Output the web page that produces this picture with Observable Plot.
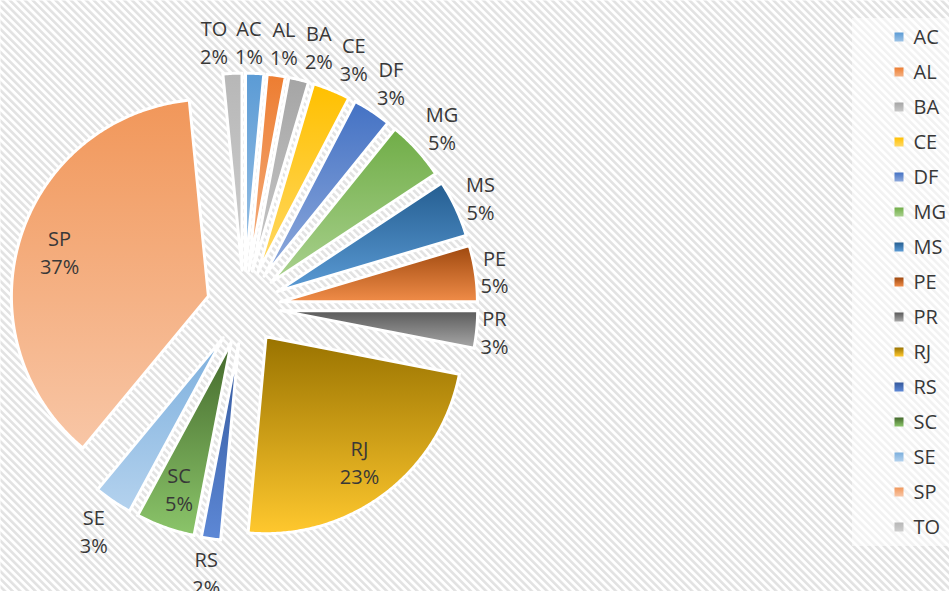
<!DOCTYPE html>
<html>
<head>
<meta charset="utf-8">
<script src="https://cdn.jsdelivr.net/npm/d3@7"></script>
<script src="https://cdn.jsdelivr.net/npm/@observablehq/plot@0.6"></script>
<style>
  html, body { margin: 0; padding: 0; background: #ffffff; overflow: hidden; }
  #chart svg { display: block; }
</style>
</head>
<body>
<div id="chart"></div>
<script>
// ---- data ----
const categories = ["AC", "AL", "BA", "CE", "DF", "MG", "MS", "PE", "PR", "RJ", "RS", "SC", "SE", "SP", "TO"];
const shares     = [1.48, 1.48, 1.63, 3.06, 3.16, 4.90, 4.69, 4.59, 3.06, 23.40, 1.58, 4.85, 3.12, 37.45, 1.55];
// gradient colours per slice: top (shade) and bottom (tint)
const shadeColors = ["#5B9BD5", "#ED7D31", "#A5A5A5", "#FFC000", "#4472C4", "#70AD47", "#255E91", "#9E480E", "#5A5A5A", "#997300", "#34589C", "#43682B", "#7CAFDD", "#F1975A", "#B7B7B7"];
const tintColors  = ["#9DC3E6", "#F4B183", "#C9C9C9", "#FFD966", "#8FAADC", "#A9D18E", "#5B9BD5", "#F08C48", "#A8A8A8", "#FFC82E", "#5D88D6", "#8BC56A", "#B4D2EE", "#F8C6A6", "#CFCFCF"];

// ---- layout ----
const W = 949, H = 591;
const center = {x: 243.3, y: 306.6};
const radius = 197, explode = 37;
const labelGap = 1, labelPad = 7, boxH = 48, placeH = 62, fitH = 44;
const fontSize = 20, lineHeight = 1.4, fontFamily = "Open Sans", textColor = "#383838";
const legend = {x0: 852, x1: W, markerX: 899, marker: 9, textX: 913, top: 37, step: 35};

const ctx = document.createElement("canvas").getContext("2d");
ctx.font = `${fontSize}px "${fontFamily}"`;
const tw = s => ctx.measureText(s).width;

const total = d3.sum(shares);
let acc = 0;
const slices = categories.map((name, i) => {
  const a0 = acc / total * 2 * Math.PI;
  acc += shares[i];
  const a1 = acc / total * 2 * Math.PI;
  const am = (a0 + a1) / 2;
  const ux = Math.sin(am), uy = -Math.cos(am);
  const ax = center.x + explode * ux, ay = center.y + explode * uy;
  const n = Math.max(2, Math.ceil((a1 - a0) / (0.5 * Math.PI / 180)));
  const pts = [{x: ax, y: ay}];
  for (let k = 0; k <= n; k++) {
    const a = a0 + (a1 - a0) * k / n;
    pts.push({x: ax + radius * Math.sin(a), y: ay - radius * Math.cos(a)});
  }
  pts.push({x: ax, y: ay});
  const pct = Math.round(shares[i] / total * 100) + "%";
  const w = Math.max(tw(name), tw(pct));
  return {name, i, a0, a1, am, ux, uy, ax, ay, pts, pct, w};
});

// ---- label placement: best fit (inside if it fits, else outside) ----
slices.forEach(s => {
  const rIn = 0.79 * radius;
  const half = (s.a1 - s.a0) / 2;
  const across = (s.w + 2) * Math.abs(Math.cos(s.am)) + fitH * Math.abs(Math.sin(s.am));
  const along = (s.w + 2) * Math.abs(s.ux) + fitH * Math.abs(s.uy);
  const fits = across < 2 * rIn * Math.sin(half) && rIn + along / 2 < radius;
  if (fits) {
    s.inside = true;
    s.lx = s.ax + rIn * s.ux; s.ly = s.ay + rIn * s.uy;
  } else {
    const sup = (s.w / 2) * Math.abs(s.ux) + (placeH / 2) * Math.abs(s.uy);
    const r = radius + labelGap + sup;
    s.lx = s.ax + r * s.ux; s.ly = s.ay + r * s.uy;
  }
});
const outs = slices.filter(s => !s.inside);
for (let it = 0; it < 400; it++) {
  let moved = false;
  for (let a = 0; a < outs.length; a++) for (let b = a + 1; b < outs.length; b++) {
    const p = outs[a], q = outs[b];
    const minX = (p.w + q.w) / 2 + labelPad;
    const dx = q.lx - p.lx, dy = q.ly - p.ly;
    if (Math.abs(dx) < minX - 0.01 && Math.abs(dy) < boxH) {
      const push = (minX - Math.abs(dx)) / 2, sgn = dx >= 0 ? 1 : -1;
      p.lx -= sgn * push; q.lx += sgn * push; moved = true;
    }
  }
  if (!moved) break;
}

const legendBox = [{x1: legend.x0, x2: legend.x1, y1: legend.top - legend.step / 2 - 1.5, y2: legend.top + (categories.length - 1) * legend.step + legend.step / 2 + 1.5}];

const svg = Plot.plot({
  width: W, height: H,
  margin: 0,
  x: {domain: [0, W], range: [0, W], axis: null},
  y: {domain: [0, H], range: [0, H], axis: null},
  style: {fontFamily: fontFamily, background: "#ffffff", overflow: "visible"},
  marks: [
    Plot.frame({fill: "url(#hatch)", stroke: "none"}),
    Plot.rect(legendBox, {x1: "x1", x2: "x2", y1: "y1", y2: "y2", fill: "#ffffff", fillOpacity: 0.55}),
    ...slices.map(s => Plot.line(s.pts, {
      x: "x", y: "y", curve: "linear",
      fill: `url(#grad-${s.name})`, stroke: "#ffffff", strokeWidth: 3,
      strokeLinejoin: "miter", strokeMiterlimit: 4
    })),
    Plot.text(slices, {
      x: "lx", y: "ly", text: d => `${d.name}\n${d.pct}`,
      lineHeight: lineHeight, lineAnchor: "middle", textAnchor: "middle",
      fontSize: fontSize, fontFamily: fontFamily, fill: textColor
    }),
    ...slices.map(s => Plot.rect([s], {
      x1: () => legend.markerX - legend.marker / 2, x2: () => legend.markerX + legend.marker / 2,
      y1: d => legend.top + d.i * legend.step - legend.marker / 2,
      y2: d => legend.top + d.i * legend.step + legend.marker / 2,
      fill: `url(#grad-${s.name})`
    })),
    Plot.text(slices, {
      x: () => legend.textX, y: d => legend.top + d.i * legend.step, text: "name",
      textAnchor: "start", lineAnchor: "middle",
      fontSize: fontSize, fontFamily: fontFamily, fill: textColor
    })
  ]
});

const defs = d3.select(svg).insert("defs", ":first-child");
const pat = defs.append("pattern").attr("id", "hatch")
  .attr("patternUnits", "userSpaceOnUse").attr("width", 5.4).attr("height", 5.4)
  .attr("patternTransform", "rotate(-45)");
pat.append("rect").attr("width", 5.4).attr("height", 5.4).attr("fill", "#ffffff");
pat.append("rect").attr("width", 2.6).attr("height", 5.4).attr("fill", "#e2e2e2");
slices.forEach(s => {
  const g = defs.append("linearGradient").attr("id", `grad-${s.name}`)
    .attr("x1", 0).attr("y1", 0).attr("x2", 0).attr("y2", 1);
  g.append("stop").attr("offset", "0%").attr("stop-color", shadeColors[s.i]);
  g.append("stop").attr("offset", "100%").attr("stop-color", tintColors[s.i]);
});

document.getElementById("chart").appendChild(svg);
</script>
</body>
</html>
